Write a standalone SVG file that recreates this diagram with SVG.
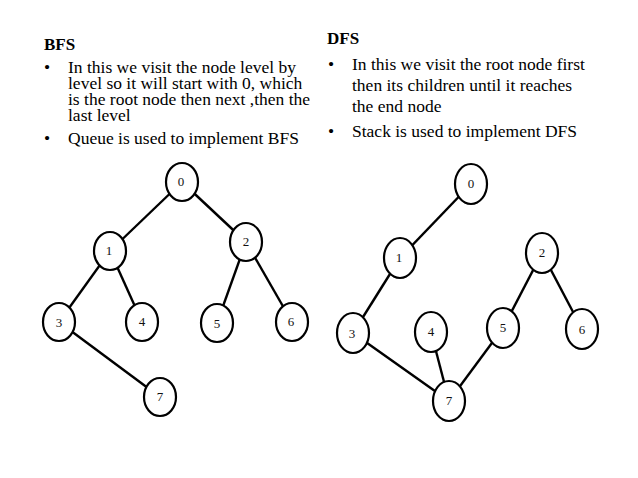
<svg xmlns="http://www.w3.org/2000/svg" width="638" height="478" viewBox="0 0 638 478">
<style>
.t{font-family:"Liberation Serif","Times New Roman",serif;font-size:17.5px;fill:#000}
.h{font-family:"Liberation Serif","Times New Roman",serif;font-size:17px;font-weight:bold;fill:#000}
.n ellipse{fill:#fff;stroke:#000;stroke-width:2.2}
.n text{font-family:"Liberation Serif","Times New Roman",serif;font-size:13px;fill:#111;text-anchor:middle}
.e line{stroke:#000;stroke-width:2.4}
</style>
<rect width="638" height="478" fill="#fff"/>
<g id="bfs-text">
<text class="h" x="44" y="50">BFS</text>
<text class="t" x="44" y="73">•</text>
<text class="t" x="68" y="73">In this we visit the node level by</text>
<text class="t" x="68" y="89">level so it will start with 0, which</text>
<text class="t" x="68" y="105">is the root node then next ,then the</text>
<text class="t" x="68" y="121">last level</text>
<text class="t" x="44" y="144">•</text>
<text class="t" x="68" y="144">Queue is used to implement BFS</text>
</g>
<g id="dfs-text">
<text class="h" x="327" y="44">DFS</text>
<text class="t" x="328" y="70">•</text>
<text class="t" x="352" y="70">In this we visit the root node first</text>
<text class="t" x="352" y="91">then its children until it reaches</text>
<text class="t" x="352" y="112">the end node</text>
<text class="t" x="328" y="137">•</text>
<text class="t" x="352" y="137">Stack is used to implement DFS</text>
</g>
<g id="connectors" class="e">
<line x1="182" y1="182" x2="110" y2="251"/>
<line x1="182" y1="182" x2="246" y2="242"/>
<line x1="110" y1="251" x2="59" y2="322"/>
<line x1="110" y1="251" x2="142" y2="322"/>
<line x1="246" y1="242" x2="217" y2="323"/>
<line x1="246" y1="242" x2="292" y2="322"/>
<line x1="59" y1="322" x2="160" y2="397"/>
<line x1="471" y1="184" x2="400" y2="258"/>
<line x1="400" y1="258" x2="353" y2="333"/>
<line x1="353" y1="333" x2="449" y2="401"/>
<line x1="431" y1="332" x2="449" y2="401"/>
<line x1="503" y1="328" x2="449" y2="401"/>
<line x1="542" y1="253" x2="503" y2="328"/>
<line x1="542" y1="253" x2="582" y2="329"/>
</g>
<g id="bfs0" class="n"><ellipse cx="182" cy="182" rx="16" ry="19"/><text x="181" y="186">0</text></g>
<g id="bfs1" class="n"><ellipse cx="110" cy="251" rx="16" ry="19"/><text x="109" y="255">1</text></g>
<g id="bfs2" class="n"><ellipse cx="246" cy="242" rx="16" ry="19"/><text x="246" y="246">2</text></g>
<g id="bfs3" class="n"><ellipse cx="59" cy="322" rx="16" ry="19"/><text x="59" y="327">3</text></g>
<g id="bfs4" class="n"><ellipse cx="142" cy="322" rx="16" ry="19"/><text x="142" y="326">4</text></g>
<g id="bfs5" class="n"><ellipse cx="217" cy="323" rx="16" ry="19"/><text x="217" y="328">5</text></g>
<g id="bfs6" class="n"><ellipse cx="292" cy="322" rx="16" ry="19"/><text x="291" y="326">6</text></g>
<g id="bfs7" class="n"><ellipse cx="160" cy="397" rx="16" ry="19"/><text x="160" y="401">7</text></g>
<g id="dfs0" class="n"><ellipse cx="471" cy="184" rx="16" ry="20"/><text x="471" y="188">0</text></g>
<g id="dfs1" class="n"><ellipse cx="400" cy="258" rx="16" ry="20"/><text x="399" y="262">1</text></g>
<g id="dfs2" class="n"><ellipse cx="542" cy="253" rx="16" ry="20"/><text x="542" y="257">2</text></g>
<g id="dfs3" class="n"><ellipse cx="353" cy="333" rx="16" ry="20"/><text x="352" y="338">3</text></g>
<g id="dfs4" class="n"><ellipse cx="431" cy="332" rx="16" ry="20"/><text x="431" y="336">4</text></g>
<g id="dfs5" class="n"><ellipse cx="503" cy="328" rx="16" ry="20"/><text x="503" y="332">5</text></g>
<g id="dfs6" class="n"><ellipse cx="582" cy="329" rx="16" ry="20"/><text x="582" y="334">6</text></g>
<g id="dfs7" class="n"><ellipse cx="449" cy="401" rx="16" ry="20"/><text x="449" y="405">7</text></g>
</svg>
